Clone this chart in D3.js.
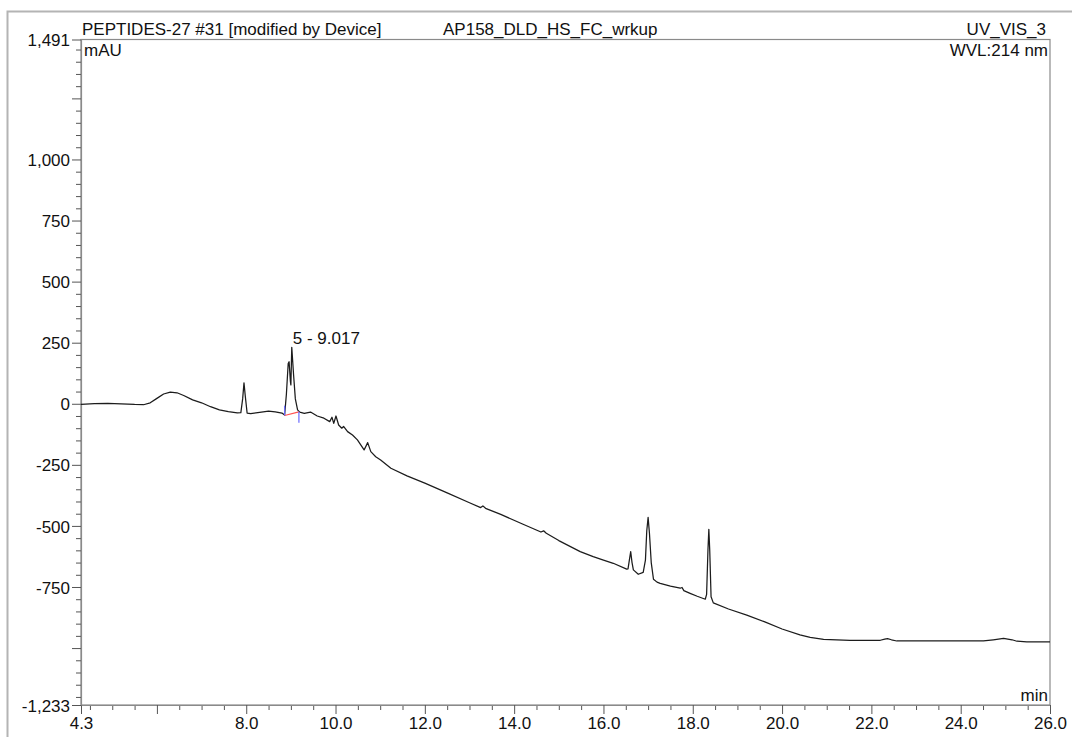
<!DOCTYPE html>
<html>
<head>
<meta charset="utf-8">
<script src="https://cdn.jsdelivr.net/npm/d3@7"></script>
<style>
  body { margin: 0; background: #fff; }
  svg text { font-family: "Liberation Sans", Arial, Helvetica, sans-serif; fill: #111; }
</style>
</head>
<body>
<div id="svg-area"></div>
<script>

// chromatogram trace (min, mAU)
const retention = [4.30, 4.60, 4.90, 5.20, 5.50, 5.70, 5.85, 6.00, 6.15, 6.30, 6.45, 6.60, 6.80, 7.00, 7.20, 7.40, 7.60, 7.80,
  7.88, 7.92, 7.95, 7.98, 8.02, 8.10, 8.30, 8.50, 8.65, 8.80, 8.86, 8.90, 8.94, 8.96, 8.99, 9.00, 9.02, 9.06, 9.10, 9.15, 9.20,
  9.30, 9.44, 9.59, 9.74, 9.87, 9.92, 9.96, 10.01, 10.07, 10.14, 10.18, 10.27, 10.38, 10.49, 10.64, 10.72, 10.79, 10.90, 11.01,
  11.24, 11.60, 12.00, 12.50, 13.00, 13.25, 13.30, 13.36, 13.70, 14.20, 14.60, 14.66, 14.72, 15.00, 15.48, 15.77, 16.00, 16.22,
  16.52, 16.55, 16.58, 16.61, 16.64, 16.67, 16.78, 16.89, 16.94, 16.97, 17.00, 17.03, 17.07, 17.12, 17.20, 17.27, 17.50, 17.72,
  17.76, 17.80, 17.94, 18.10, 18.28, 18.31, 18.34, 18.36, 18.38, 18.41, 18.46, 18.80, 19.21, 19.60, 20.00, 20.40, 20.63, 20.93,
  21.52, 22.20, 22.30, 22.36, 22.45, 22.57, 23.39, 24.51, 24.73, 24.96, 25.15, 25.26, 25.48, 26.00]
const signal = [-2, 1, 2, 0, -3, -4, 4, 22, 40, 48, 45, 34, 16, 4, -12, -25, -32, -37,
  -36, 20, 86, 30, -38, -40, -35, -30, -33, -38, -46, 40, 165, 172, 90, 77, 231, 120, 20, -25, -34,
  -39, -34, -50, -59, -73, -55, -80, -50, -87, -100, -93, -114, -128, -148, -189, -159, -196, -217, -230,
  -264, -295, -325, -365, -405, -425, -418, -428, -453, -493, -525, -520, -530, -560, -605, -626, -640, -653,
  -677, -676, -640, -605, -650, -680, -698, -690, -640, -520, -465, -530, -650, -718, -730, -735, -746, -755,
  -752, -765, -776, -788, -800, -780, -600, -514, -600, -790, -815, -840, -865, -892, -922, -946, -956, -964,
  -968, -968, -963, -961, -966, -971, -971, -971, -966, -960, -966, -972, -975, -975]

// integrated peak 5
const peakName = "5 - 9.017"
const peakApex = [9.02, 231]
const integrationT = [8.86, 9.18]
const integrationV = [-48, -33]
const markerTop = [-8, -33]
const markerBottom = [-48, -78]

// axes
const xDomain = [4.3, 26.0]
const yDomain = [-1233, 1491]
const xMajor = [4.3, 6, 8, 10, 12, 14, 16, 18, 20, 22, 24, 26]
const xLabelled = [4.3, 8, 10, 12, 14, 16, 18, 20, 22, 24, 26]
const yMajor = [1491, 1250, 1000, 750, 500, 250, 0, -250, -500, -750, -1000, -1233]
const yLabelled = [1491, 1000, 750, 500, 250, 0, -250, -500, -750, -1233]

const headerLeft = "PEPTIDES-27 #31 [modified by Device]"
const headerMid = "AP158_DLD_HS_FC_wrkup"
const headerRight = "UV_VIS_3"
const yUnit = "mAU"
const wavelength = "WVL:214 nm"
const xUnit = "min"

const svgWidth = 1072;
const svgHeight = 737;

const margin = {
  top: 39.5,
  right: 22,
  bottom: 32,
  left: 81,
};

const chartWidth = svgWidth - margin.left - margin.right;
const chartHeight = svgHeight - margin.top - margin.bottom;

let svg = d3
  .select("#svg-area")
  .append("svg")
  .attr("height", svgHeight)
  .attr("width", svgWidth);

// outer page frame
svg.append("path")
  .attr("d", "M7.5,737 L7.5,11.5 L1072,11.5")
  .attr("fill", "none")
  .attr("stroke", "#b4b4b4")
  .attr("stroke-width", 2);

let chartGroup = svg.append("g")
  .attr("transform", `translate(${margin.left}, ${margin.top})`);

const x = d3.scaleLinear().domain(xDomain).range([0, chartWidth]);
const y = d3.scaleLinear().domain(yDomain).range([chartHeight, 0]);

// plain hyphen for negatives, like the instrument printout
const locale = d3.formatLocale({ decimal: ".", thousands: ",", grouping: [3], currency: ["", ""], minus: "-" })
const fmtY = locale.format(",")
const fmtX = locale.format(".1f")

// plot box
chartGroup.append("rect")
  .attr("x", 0).attr("y", 0)
  .attr("width", chartWidth).attr("height", chartHeight)
  .attr("fill", "none")
  .attr("stroke", "#8a8a8a")
  .attr("stroke-width", 1.2);

// minor ticks
const xMinor = d3.range(4.5, 26, 0.5).filter(v => !xMajor.includes(v))
const yMinor = d3.range(-1200, 1491, 50).filter(v => !yMajor.includes(v))

chartGroup.append("g")
  .attr("transform", `translate(0, ${chartHeight})`)
  .call(d3.axisBottom(x).tickValues(xMinor).tickSize(5).tickFormat(""))
  .call(g => g.select(".domain").remove());

chartGroup.append("g")
  .call(d3.axisLeft(y).tickValues(yMinor).tickSize(5).tickFormat(""))
  .call(g => g.select(".domain").remove());

// major ticks with labels
let xAxis = chartGroup.append("g")
  .attr("transform", `translate(0, ${chartHeight})`)
  .call(d3.axisBottom(x).tickValues(xMajor).tickSize(9).tickSizeOuter(0).tickPadding(3)
    .tickFormat(v => xLabelled.includes(v) ? fmtX(v) : ""));

let yAxis = chartGroup.append("g")
  .call(d3.axisLeft(y).tickValues(yMajor).tickSize(9).tickSizeOuter(0).tickPadding(2)
    .tickFormat(v => yLabelled.includes(v) ? fmtY(v) : ""));

chartGroup.selectAll(".tick line").attr("stroke", "#555");
chartGroup.selectAll(".domain").attr("stroke", "#8a8a8a").attr("stroke-width", 1.2);
chartGroup.selectAll(".tick text")
  .attr("font-size", 17)
  .attr("fill", "#111")
  .attr("font-family", "Liberation Sans, Arial, sans-serif");
yAxis.selectAll(".tick text").attr("dy", "0.36em");

// trace
const trace = d3.zip(retention, signal)
const line = d3.line()
  .x(d => x(d[0]))
  .y(d => y(d[1]));

chartGroup.append("path")
  .datum(trace)
  .attr("d", line)
  .attr("fill", "none")
  .attr("stroke", "#1c1c1c")
  .attr("stroke-width", 1.25)
  .attr("stroke-linejoin", "round");

// integration baseline + delimiters
chartGroup.append("line")
  .attr("x1", x(integrationT[0])).attr("y1", y(integrationV[0]))
  .attr("x2", x(integrationT[1])).attr("y2", y(integrationV[1]))
  .attr("stroke", "#ff5050")
  .attr("stroke-width", 1.2);

integrationT.forEach((t, i) => {
  chartGroup.append("line")
    .attr("x1", x(t)).attr("x2", x(t))
    .attr("y1", y(markerTop[i])).attr("y2", y(markerBottom[i]))
    .attr("stroke", "#6a6aff")
    .attr("stroke-width", 1.2);
})

chartGroup.append("text")
  .attr("x", x(peakApex[0]) + 1)
  .attr("y", y(peakApex[1]) - 3)
  .attr("font-size", 17)
  .text(peakName);

// header + unit texts
svg.append("text").attr("x", 82).attr("y", 35).attr("font-size", 17).text(headerLeft);
svg.append("text").attr("x", 443).attr("y", 35).attr("font-size", 17).text(headerMid);
svg.append("text").attr("x", 1046).attr("y", 35).attr("font-size", 17)
  .attr("text-anchor", "end").text(headerRight);

chartGroup.append("text").attr("x", 3).attr("y", 16).attr("font-size", 17).text(yUnit);
chartGroup.append("text").attr("x", chartWidth - 2).attr("y", 16).attr("font-size", 17)
  .attr("text-anchor", "end").text(wavelength);
chartGroup.append("text").attr("x", chartWidth - 2).attr("y", chartHeight - 4).attr("font-size", 17)
  .attr("text-anchor", "end").text(xUnit);

</script>
</body>
</html>
